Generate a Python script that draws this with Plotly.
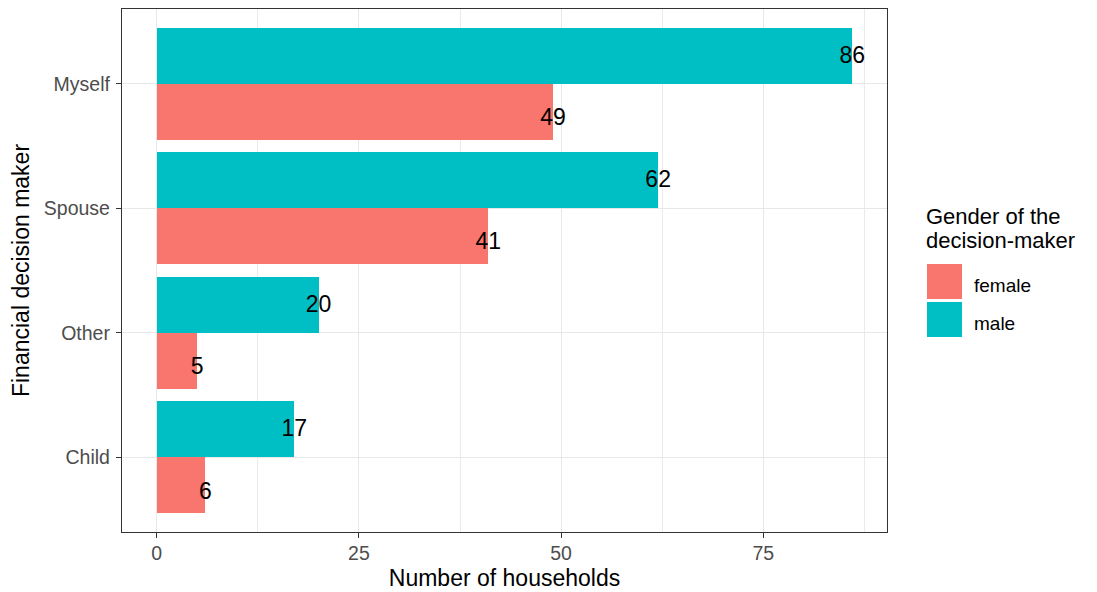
import plotly.graph_objects as go

categories = ["Child", "Other", "Spouse", "Myself"]
female = [6, 5, 41, 49]
male = [17, 20, 62, 86]
x_ticks = [0, 25, 50, 75]
colors = {"female": "#F8766D", "male": "#00BFC4"}

FONT = "Arial, Liberation Sans, sans-serif"
width = 0.45
pos = list(range(1, len(categories) + 1))
y_f = [p - width / 2 for p in pos]
y_m = [p + width / 2 for p in pos]
# label placement (dodged text, as in the original)
lab_f = [p - 0.285 for p in pos]
lab_m = [p + 0.215 for p in pos]

fig = go.Figure()
fig.add_trace(go.Bar(x=female, y=y_f, orientation="h", width=width,
                     marker=dict(color=colors["female"], line=dict(width=0)),
                     name="female", showlegend=False))
fig.add_trace(go.Bar(x=male, y=y_m, orientation="h", width=width,
                     marker=dict(color=colors["male"], line=dict(width=0)),
                     name="male", showlegend=False))
fig.add_trace(go.Scatter(x=female, y=lab_f, mode="text", text=[str(v) for v in female],
                         textposition="middle center", textfont=dict(size=23, color="black", family=FONT),
                         showlegend=False, cliponaxis=False, hoverinfo="skip"))
fig.add_trace(go.Scatter(x=male, y=lab_m, mode="text", text=[str(v) for v in male],
                         textposition="middle center", textfont=dict(size=23, color="black", family=FONT),
                         showlegend=False, cliponaxis=False, hoverinfo="skip"))

# page has an 8px body margin; figure coordinates = page coordinates - 8
OFF = 8
W, H = 1089, 584
L, T = 122 - OFF, 9 - OFF
R = W - (887 - OFF)
B = H - (532 - OFF)
pw, ph = W - L - R, H - T - B

def px(xp):
    return (xp - OFF - L) / pw

def py(yp):
    return (H - B - (yp - OFF)) / ph

fig.update_layout(
    width=W, height=H,
    margin=dict(l=L, r=R, t=T, b=B, autoexpand=False),
    paper_bgcolor="white", plot_bgcolor="white",
    font=dict(family=FONT, color="black"),
    bargap=0,
)
fig.update_xaxes(
    automargin=False,
    range=[-4.3, 90.3], tickvals=x_ticks, ticktext=[str(v) for v in x_ticks],
    showgrid=True, gridcolor="#E8E8E8", gridwidth=1.3,
    minor=dict(tickvals=[12.5, 37.5, 62.5, 87.5], showgrid=True, gridcolor="#EBEBEB", gridwidth=0.7),
    zeroline=False, showline=True, mirror=True, linecolor="#333333", linewidth=1.3,
    ticks="outside", ticklen=5, tickcolor="#333333", tickwidth=1.2,
    tickfont=dict(size=19.5, color="#4D4D4D", family=FONT), ticklabelstandoff=-2,
    title=dict(text="Number of households", font=dict(size=23, color="black", family=FONT), standoff=7),
)
fig.update_yaxes(
    automargin=False,
    range=[0.4, 4.6], tickvals=pos, ticktext=categories,
    showgrid=True, gridcolor="#E8E8E8", gridwidth=1.3,
    zeroline=False, showline=True, mirror=True, linecolor="#333333", linewidth=1.3,
    ticks="outside", ticklen=5, tickcolor="#333333", tickwidth=1.2,
    tickfont=dict(size=19.5, color="#4D4D4D", family=FONT), ticklabelstandoff=2,
    title=dict(text="Financial decision maker", font=dict(size=23, color="black", family=FONT), standoff=10),
)

# legend drawn manually (large ggplot-style keys)
for line, yc in [("Gender of the", 216), ("decision-maker", 241)]:
    fig.add_annotation(xref="paper", yref="paper", x=px(924), y=py(yc), xanchor="left", yanchor="middle",
                       text=line, showarrow=False, align="left",
                       font=dict(size=22, color="black", family=FONT))
for i, (name, col) in enumerate([("female", colors["female"]), ("male", colors["male"])]):
    top = 264 + i * 38
    fig.add_shape(type="rect", xref="paper", yref="paper",
                  x0=px(927), x1=px(962), y0=py(top), y1=py(top + 35),
                  fillcolor=col, line=dict(width=0))
    fig.add_annotation(xref="paper", yref="paper", x=px(972), y=py(top + 21), xanchor="left", yanchor="middle",
                       text=name, showarrow=False, font=dict(size=19, color="black", family=FONT))

fig.write_html("out.html")
